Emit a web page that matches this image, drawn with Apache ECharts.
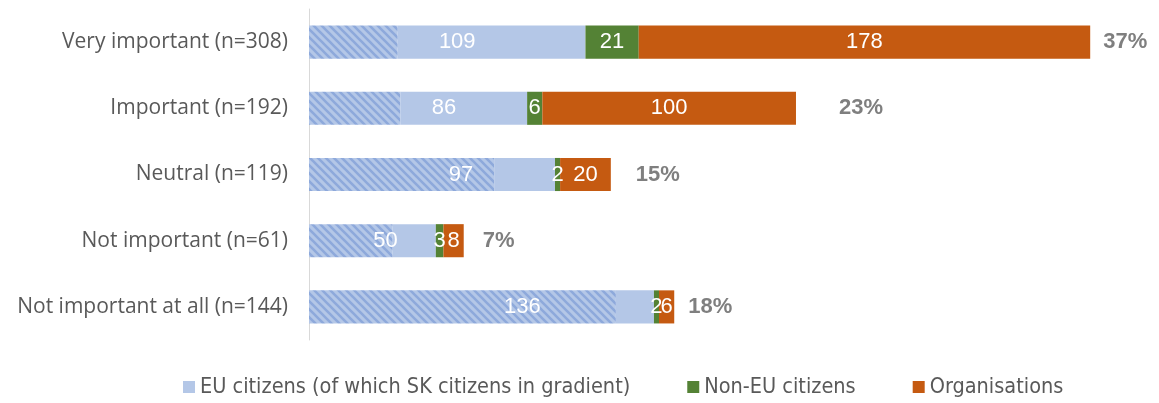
<!DOCTYPE html>
<html>
<head>
<meta charset="utf-8">
<script src="https://cdn.jsdelivr.net/npm/echarts@6/dist/echarts.min.js"></script>
<style>
  html, body { margin: 0; padding: 0; background: #fff; }
  #chart { width: 1159px; height: 403px; }
</style>
</head>
<body>
<div id="chart"></div>
<script>
const categories = [
  'Very important (n=308)',
  'Important (n=192)',
  'Neutral (n=119)',
  'Not important (n=61)',
  'Not important at all (n=144)'
]
const euCitizens = [109, 86, 97, 50, 136]
const skCitizens = [35, 36, 73, 33, 121]
const nonEuCitizens = [21, 6, 2, 3, 2]
const organisations = [178, 100, 20, 8, 6]
const shares = ['37%', '23%', '15%', '7%', '18%']

const euRest = euCitizens.map((v, i) => v - skCitizens[i])
const totals = euCitizens.map((v, i) => v + nonEuCitizens[i] + organisations[i])

// hatched tile for the SK part
const tile = document.createElement('canvas')
tile.width = 8
tile.height = 8
const ctx = tile.getContext('2d')
ctx.fillStyle = '#B4C7E7'
ctx.fillRect(0, 0, 8, 8)
ctx.strokeStyle = '#8EA9DB'
ctx.lineWidth = 2.6
ctx.beginPath()
for (const k of [-8, 0, 8]) {
  ctx.moveTo(k - 2, -2)
  ctx.lineTo(k + 10, 10)
}
ctx.stroke()

const euName = 'EU citizens (of which SK citizens in gradient)'
const euLabelShift = [10, 26, 29, 13, 41]
const shareGap = [13, 43, 25, 19, 14]

const valueLabel = {
  show: true,
  position: 'inside',
  color: '#fff',
  fontSize: 22,
  fontFamily: 'Liberation Sans, Arial, sans-serif'
}

const chart = echarts.init(document.getElementById('chart'))
const option = {
  animation: false,
  grid: {
    left: 309,
    right: 13,
    top: 9,
    bottom: 63
  },
  legend: {
    data: [euName, 'Non-EU citizens', 'Organisations'],
    bottom: 0,
    left: 178,
    icon: 'rect',
    itemWidth: 12,
    itemHeight: 12,
    itemGap: 57,
    textStyle: {
      fontSize: 21.5,
      color: '#595959',
      fontFamily: 'Liberation Sans Narrow, DejaVu Sans Condensed, sans-serif'
    }
  },
  xAxis: {
    type: 'value',
    min: 0,
    max: 330,
    show: false,
    splitLine: { show: false }
  },
  yAxis: {
    type: 'category',
    data: categories,
    inverse: true,
    axisTick: { show: false },
    axisLine: { lineStyle: { color: '#D9D9D9', width: 1 } },
    axisLabel: {
      margin: 21,
      fontSize: 21,
      color: '#595959',
      fontFamily: 'Open Sans, sans-serif'
    }
  },
  series: [
    {
      name: 'SK citizens',
      type: 'bar',
      stack: 'all',
      barWidth: '50%',
      barGap: '-100%',
      data: skCitizens,
      itemStyle: { color: { image: tile, repeat: 'repeat' } }
    },
    {
      name: euName,
      type: 'bar',
      stack: 'all',
      barWidth: '50%',
      barGap: '-100%',
      data: euRest,
      itemStyle: { color: '#B4C7E7' }
    },
    {
      name: 'Non-EU citizens',
      type: 'bar',
      stack: 'all',
      barWidth: '50%',
      barGap: '-100%',
      data: nonEuCitizens,
      itemStyle: { color: '#548235' },
      label: valueLabel
    },
    {
      name: 'Organisations',
      type: 'bar',
      stack: 'all',
      barWidth: '50%',
      barGap: '-100%',
      data: organisations,
      itemStyle: { color: '#C55A11' },
      label: valueLabel
    },
    {
      name: 'EU total',
      type: 'bar',
      stack: 'euLabel',
      barWidth: '50%',
      barGap: '-100%',
      silent: true,
      z: 5,
      itemStyle: { color: 'rgba(0,0,0,0)' },
      data: euCitizens.map((v, i) => ({
        value: v,
        label: { ...valueLabel, offset: [euLabelShift[i], 0] }
      }))
    },
    {
      name: 'Share',
      type: 'bar',
      stack: 'share',
      barWidth: '50%',
      barGap: '-100%',
      silent: true,
      z: 5,
      itemStyle: { color: 'rgba(0,0,0,0)' },
      data: totals.map((v, i) => ({
        value: v,
        label: {
          show: true,
          position: 'right',
          distance: shareGap[i],
          formatter: shares[i],
          fontSize: 22,
          fontWeight: 'bold',
          color: '#7F7F7F',
          fontFamily: 'Liberation Sans, Arial, sans-serif'
        }
      }))
    }
  ]
}
chart.setOption(option)
</script>
</body>
</html>
